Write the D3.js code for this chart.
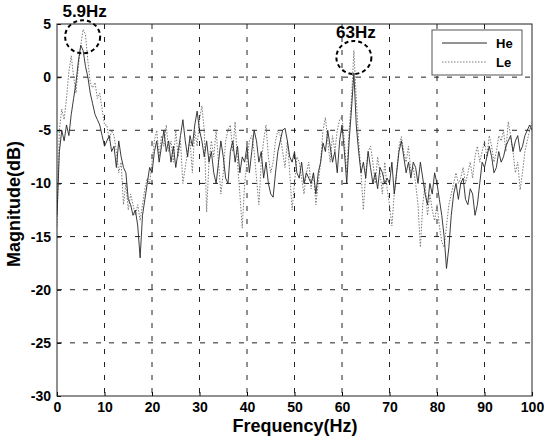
<!DOCTYPE html>
<html><head><meta charset="utf-8">
<script src="https://cdn.jsdelivr.net/npm/d3@7"></script>
<style>
html,body{margin:0;padding:0;background:#fff;}
text{font-family:"Liberation Sans",Arial,sans-serif;font-weight:bold;fill:#000;}
</style></head>
<body><svg id="c" width="544" height="439"></svg>
<script>
// frequency step of the sampled spectra (Hz)
const freqStep = 0.5;
const xTicks = [0,10,20,30,40,50,60,70,80,90,100];
const yTicks = [5,0,-5,-10,-15,-20,-25,-30];
const seriesNames = ["He","Le"];
const He = [
 -13,-7,-5,-6,-4.5,-5.5,-3.5,-2,-0.5,1.5,
 3,2.5,1,0,-1.5,-2.5,-3.5,-4,-4.5,-5.5,
 -6.5,-6,-5.5,-7,-6.5,-8.5,-6,-7.5,-8.5,-9,
 -11.5,-12,-13,-12.5,-14,-17,-13,-11.5,-10,-8.5,
 -9,-7,-6,-8,-6.5,-5,-7,-6,-8,-6.5,
 -8.5,-7,-5.5,-4,-6,-7.5,-5.5,-6.5,-4.5,-3.2,
 -5,-6,-7.5,-6,-8,-7,-9,-10,-8,-6,
 -7.5,-9.5,-10,-7,-6,-8,-6.5,-9,-7.5,-8,
 -6.5,-9,-7,-5,-6,-8,-7,-9.5,-8,-10,
 -11,-11.3,-9,-7,-6,-5,-4.8,-6,-7.5,-8,
 -7,-9,-9.5,-8,-10,-9,-9.5,-10,-9,-11,
 -9,-8,-6.2,-7,-5,-6.5,-8,-7,-9,-6,
 -4.5,-7,-10,-6,-3,0.4,-4.5,-7,-9,-8,
 -9.5,-7,-8.5,-10,-9,-10.5,-8.5,-9,-10,-9.5,
 -10,-8,-11,-9,-7,-6,-7.5,-9,-8,-9.5,
 -8,-8.5,-10,-8,-9.5,-11,-12,-10,-11,-9,
 -10,-11.5,-13,-15,-18,-16,-13,-11,-10,-11.5,
 -10,-9.5,-11.5,-12,-10.5,-11,-13,-12,-10,-8,
 -8.5,-7.5,-6.5,-7.5,-9,-8.5,-7,-8,-7.5,-6.5,
 -6,-5.5,-7,-6,-5.5,-7,-6.5,-5.5,-5,-4.5,
 -5];
const Le = [
 -14,-5,-3,-4,-2,0.5,2,0,-1.5,1,
 3,4.5,4,1.5,-0.5,-1,-0.5,-2,-1.5,-3,
 -4.5,-4.5,-6,-5,-5.5,-7,-9,-8,-12,-10,
 -12.5,-11,-12,-13,-12,-13.5,-12,-10.5,-9.5,-10,
 -8,-6,-5,-7.5,-5.5,-6.5,-4.5,-7,-6,-8,
 -5,-7.5,-6,-10,-8.5,-7,-6,-9,-5,-6.5,
 -4,-2.7,-5,-12.7,-8,-6,-7.5,-5,-8,-11,
 -9,-6,-5,-4.5,-7,-4.2,-8,-11,-14.2,-10,
 -8,-6,-5.5,-7,-9.5,-12,-8,-6,-4.5,-7.5,
 -9,-8,-6,-5,-5.5,-7,-8.5,-6,-9,-12.5,
 -10,-7.5,-8,-9.5,-11,-9,-8,-10.5,-9,-12,
 -10,-8,-5,-3.8,-6,-8,-5.5,-7,-5,-4,
 -3.7,-6,-9,-5,-2,2.5,-2,-6,-9,-12.5,
 -9,-7,-6.5,-8,-10,-7.5,-9,-11,-8,-10.5,
 -12,-14,-11,-9,-6.5,-5.6,-7,-8,-6.5,-9,
 -8.5,-10,-12,-16,-12,-10,-13,-11,-12.5,-13.5,
 -12,-14,-15.5,-16,-14,-12,-11,-10,-9,-10,
 -9.5,-8.5,-10,-9,-8,-9.5,-7.5,-6.5,-8,-7,
 -6,-7.5,-5.5,-6.5,-8,-7,-5.5,-6,-5,-7,
 -4.2,-5.5,-7,-9,-8,-10.6,-9,-7,-6,-5,
 -4.3];
// annotations: label, circle centre (Hz, dB)
const annLabels = ["5.9Hz","63Hz"];
const annFreq = [5.4, 62.5];
const annDb = [3.8, 1.85];

const svg = d3.select("#c");
const L=57,R=532,T=24,B=396;
const x = d3.scaleLinear().domain([0,100]).range([L,R]);
const y = d3.scaleLinear().domain([-30,5]).range([B,T]);

// grid
const g = svg.append("g");
g.selectAll(".vg").data(xTicks.slice(1,-1)).enter().append("line")
 .attr("x1",d=>x(d)).attr("x2",d=>x(d)).attr("y1",T).attr("y2",B)
 .attr("stroke","#222").attr("stroke-width",1).attr("stroke-dasharray","5,8");
g.selectAll(".hg").data(yTicks.slice(1,-1)).enter().append("line")
 .attr("y1",d=>y(d)).attr("y2",d=>y(d)).attr("x1",L).attr("x2",R)
 .attr("stroke","#222").attr("stroke-width",1).attr("stroke-dasharray","5,8");

// axes
const xa = d3.axisBottom(x).tickValues(xTicks).tickSize(-4).tickPadding(5).tickFormat(d3.format("d"));
const ya = d3.axisLeft(y).tickValues(yTicks).tickSize(-4).tickPadding(6).tickFormat(d=>d<0?"-"+Math.abs(d):d);
const gx = svg.append("g").attr("transform",`translate(0,${B})`).call(xa);
const gy = svg.append("g").attr("transform",`translate(${L},0)`).call(ya);
[gx,gy].forEach(a=>{a.select(".domain").remove();a.selectAll("line").attr("stroke","#000");
 a.selectAll("text").style("font-size","14px").style("font-weight","bold").style("font-family","'Liberation Sans',Arial,sans-serif");});
gx.selectAll("text").attr("dy","0.8em");

// series
const line = d3.line().x((d,i)=>x(i*freqStep)).y(d=>y(d));
svg.append("clipPath").attr("id","clp").append("rect").attr("x",L).attr("y",T).attr("width",R-L).attr("height",B-T);
svg.append("path").datum(Le).attr("d",line).attr("fill","none").attr("stroke","#7a7a7a")
 .attr("stroke-width",1).attr("stroke-dasharray","1.5,1.5").attr("clip-path","url(#clp)");
svg.append("path").datum(He).attr("d",line).attr("fill","none").attr("stroke","#262626")
 .attr("stroke-width",0.9).attr("clip-path","url(#clp)");

// box
svg.append("rect").attr("x",L).attr("y",T).attr("width",R-L).attr("height",B-T)
 .attr("fill","none").attr("stroke","#222").attr("stroke-width",1);

// legend
const lg = svg.append("g");
lg.append("rect").attr("x",432).attr("y",30).attr("width",90).attr("height",45).attr("fill","#fff").attr("stroke","#555").attr("stroke-width",1);
const lStyle=[{c:"#262626",d:null},{c:"#7a7a7a",d:"1.5,1.5"}];
seriesNames.forEach((n,i)=>{
  const yy=43+i*19;
  lg.append("line").attr("x1",442).attr("x2",487).attr("y1",yy).attr("y2",yy)
    .attr("stroke",lStyle[i].c).attr("stroke-width",1).attr("stroke-dasharray",lStyle[i].d);
  lg.append("text").attr("x",496).attr("y",yy+5).style("font-size","13px").text(n);
});

// annotations
annLabels.forEach((t,i)=>{
  const cx=x(annFreq[i]), cy=y(annDb[i]);
  svg.append("ellipse").attr("cx",cx).attr("cy",cy).attr("rx",17.5).attr("ry",16.5)
   .attr("fill","none").attr("stroke","#000").attr("stroke-width",2).attr("stroke-dasharray","4,3");
  svg.append("text").attr("x",cx+2).attr("y",cy-19.5).attr("text-anchor","middle").style("font-size","17px").text(t);
});

// axis titles
svg.append("text").attr("x",295).attr("y",432).attr("text-anchor","middle").style("font-size","18px").text("Frequency(Hz)");
svg.append("text").attr("transform","translate(20,204) rotate(-90)").attr("text-anchor","middle").style("font-size","18px").text("Magnitude(dB)");
</script></body></html>
